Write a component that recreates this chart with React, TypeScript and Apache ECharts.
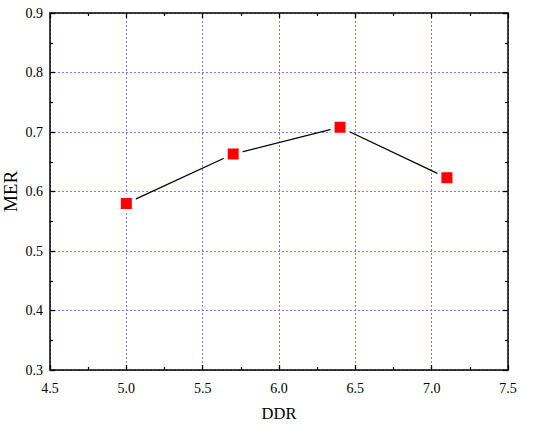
import React, { useEffect, useRef } from "react";
import * as echarts from "echarts";

const ddr = [5.0, 5.7, 6.4, 7.1];
const mer = [0.58, 0.663, 0.708, 0.623];

const FONT = "Liberation Serif";
const GRID_COLOR = "#7a7aff";

export default function App() {
  const ref = useRef<HTMLDivElement>(null);
  useEffect(() => {
    document.body.style.margin = "0";
    if (!ref.current) return;
    const chart = echarts.init(ref.current, null, { renderer: "svg" });
    const baseAxisLine = { show: true, lineStyle: { color: "#000", width: 1.5 } };
    const tick = { show: true, inside: true, length: 5, lineStyle: { color: "#000", width: 1.3 } };
    const minor = { show: true, splitNumber: 2, length: 3, lineStyle: { color: "#000", width: 1.2 } };
    const split = { show: true, lineStyle: { color: GRID_COLOR, type: [2, 2], width: 1 } };
    const fmt = (v: number) => v.toFixed(1);
    chart.setOption({
      animation: false,
      backgroundColor: "#fff",
      textStyle: { fontFamily: FONT, color: "#000" },
      grid: { left: 50, right: 42, top: 13, bottom: 55, outerBoundsMode: "none", containLabel: false },
      xAxis: [
        {
          type: "value",
          min: 4.5,
          max: 7.5,
          interval: 0.5,
          name: "DDR",
          nameLocation: "middle",
          nameGap: 35,
          nameMoveOverlap: false,
          nameTextStyle: { fontFamily: FONT, fontSize: 16.5, color: "#000" },
          axisLine: baseAxisLine,
          axisTick: tick,
          minorTick: minor,
          axisLabel: {
            show: true,
            fontFamily: FONT,
            fontSize: 14,
            color: "#000",
            margin: 11,
            verticalAlign: "top",
            formatter: fmt,
          },
          splitLine: split,
        },
        {
          type: "value",
          position: "top",
          min: 4.5,
          max: 7.5,
          interval: 0.5,
          axisLine: baseAxisLine,
          axisTick: tick,
          minorTick: minor,
          axisLabel: { show: false },
          splitLine: { show: false },
        },
      ],
      yAxis: [
        {
          type: "value",
          min: 0.3,
          max: 0.9,
          interval: 0.1,
          name: "MER",
          nameLocation: "middle",
          nameGap: 30,
          nameMoveOverlap: false,
          nameTextStyle: { fontFamily: FONT, fontSize: 19, color: "#000" },
          axisLine: baseAxisLine,
          axisTick: tick,
          minorTick: minor,
          axisLabel: {
            show: true,
            fontFamily: FONT,
            fontSize: 14,
            color: "#000",
            margin: 7,
            formatter: fmt,
          },
          splitLine: split,
        },
        {
          type: "value",
          position: "right",
          min: 0.3,
          max: 0.9,
          interval: 0.1,
          axisLine: baseAxisLine,
          axisTick: tick,
          minorTick: minor,
          axisLabel: { show: false },
          splitLine: { show: false },
        },
      ],
      series: [
        {
          type: "line",
          data: ddr.map((x, i) => [x, mer[i]]),
          symbol: "rect",
          symbolSize: 15,
          lineStyle: { color: "#000", width: 1.3 },
          itemStyle: { color: "#ff0000", borderColor: "#fff", borderWidth: 4 },
          z: 5,
        },
      ],
    });
    return () => chart.dispose();
  }, []);
  return <div ref={ref} style={{ width: 550, height: 425 }} />;
}
